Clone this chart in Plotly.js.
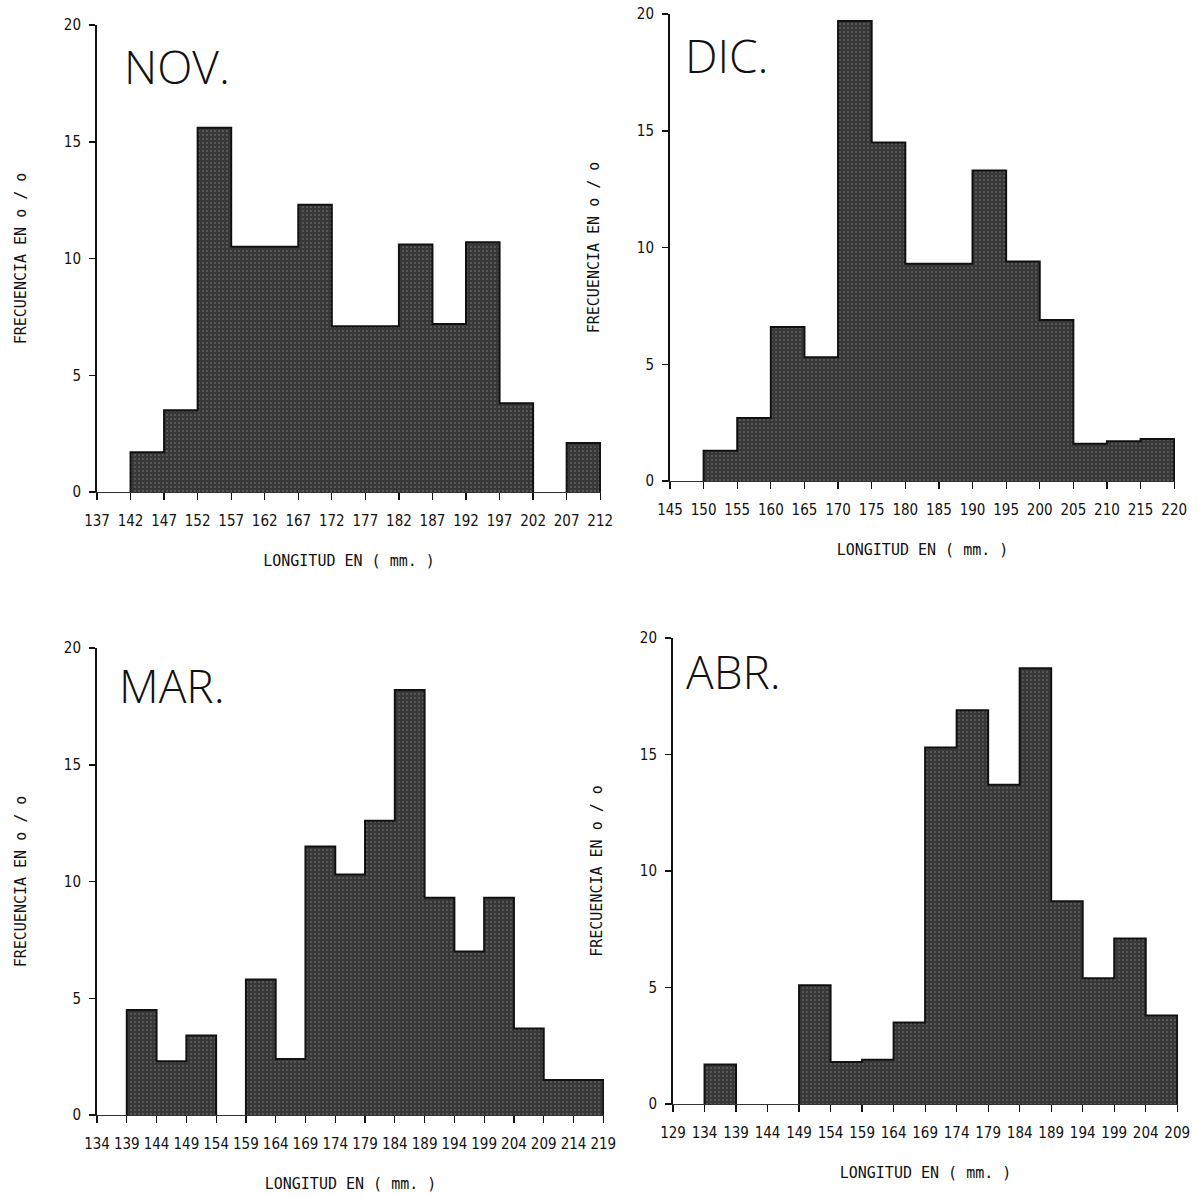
<!DOCTYPE html>
<html>
<head>
<meta charset="utf-8">
<script src="https://cdn.plot.ly/plotly-3.0.1.min.js"></script>
<style>
  html, body { margin: 0; padding: 0; background: #fff; }
  #chart { width: 1199px; height: 1197px; }
</style>
</head>
<body>
<div id="chart"></div>
<script>
// Length-frequency histograms (class width 5 mm), percent frequency per month.

// November
const novEdges = [137, 142, 147, 152, 157, 162, 167, 172, 177, 182, 187, 192, 197, 202, 207, 212];
const novFreq  = [0, 1.7, 3.5, 15.6, 10.5, 10.5, 12.3, 7.1, 7.1, 10.6, 7.2, 10.7, 3.8, 0, 2.1];

// December
const dicEdges = [145, 150, 155, 160, 165, 170, 175, 180, 185, 190, 195, 200, 205, 210, 215, 220];
const dicFreq  = [0, 1.3, 2.7, 6.6, 5.3, 19.7, 14.5, 9.3, 9.3, 13.3, 9.4, 6.9, 1.6, 1.7, 1.8];

// March
const marEdges = [134, 139, 144, 149, 154, 159, 164, 169, 174, 179, 184, 189, 194, 199, 204, 209, 214, 219];
const marFreq  = [0, 4.5, 2.3, 3.4, 0, 5.8, 2.4, 11.5, 10.3, 12.6, 18.2, 9.3, 7.0, 9.3, 3.7, 1.5, 1.5];

// April
const abrEdges = [129, 134, 139, 144, 149, 154, 159, 164, 169, 174, 179, 184, 189, 194, 199, 204, 209];
const abrFreq  = [0, 1.7, 0, 0, 5.1, 1.8, 1.9, 3.5, 15.3, 16.9, 13.7, 18.7, 8.7, 5.4, 7.1, 3.8];

const monthNames = ['NOV.', 'DIC.', 'MAR.', 'ABR.'];
const yTicks = [0, 5, 10, 15, 20];
const xTitle = 'LONGITUD EN ( mm. )';
const yTitle = 'FRECUENCIA EN o / o';

const W = 1199, H = 1197;
const xdom = (a, b) => [a / W, b / W];
const ydom = (top, bottom) => [1 - bottom / H, 1 - top / H];

// plot-area boxes in pixels: [left, right, top, bottom]
const boxes = [
  [97, 601, 25, 492],
  [670, 1175, 14, 481],
  [97, 604, 648, 1115],
  [673, 1178, 638, 1104]
];
const labelPos = [ // month label position in axis-domain fractions
  [0.05, 0.983],
  [0.026, 0.982],
  [0.04, 0.992],
  [0.022, 0.999]
];

const panels = [
  [novEdges, novFreq],
  [dicEdges, dicFreq],
  [marEdges, marFreq],
  [abrEdges, abrFreq]
];

const tickFont = { family: "'Liberation Sans Narrow', 'DejaVu Sans Condensed', 'DejaVu Sans Mono', monospace", size: 15, color: '#111' };
const titleFont = { family: "'DejaVu Sans Mono', monospace", size: 15, color: '#111' };

// silhouette of a histogram: one closed step path per run of non-empty classes
function outline(edges, freq) {
  const xs = [], ys = [];
  let k = 0;
  while (k < freq.length) {
    if (freq[k] <= 0) { k++; continue; }
    xs.push(edges[k]); ys.push(0);
    while (k < freq.length && freq[k] > 0) {
      xs.push(edges[k]); ys.push(freq[k]);
      k++;
    }
    xs.push(edges[k]); ys.push(0);
    xs.push(null); ys.push(null);
  }
  return { xs, ys };
}

const data = [];
const layout = {
  width: W, height: H,
  margin: { l: 0, r: 0, t: 0, b: 0 },
  paper_bgcolor: '#fff', plot_bgcolor: '#fff',
  showlegend: false,
  bargap: 0,
  annotations: []
};

panels.forEach(([edges, freq], i) => {
  const n = i + 1;
  const xa = n === 1 ? 'x' : 'x' + n;
  const ya = n === 1 ? 'y' : 'y' + n;
  const xKey = n === 1 ? 'xaxis' : 'xaxis' + n;
  const yKey = n === 1 ? 'yaxis' : 'yaxis' + n;
  const b = boxes[i];

  // filled classes
  data.push({
    type: 'bar',
    x: edges.slice(0, freq.length),
    y: freq,
    width: 5,
    offset: 0,
    xaxis: xa, yaxis: ya,
    marker: {
      color: '#3c3c3c',
      line: { width: 0 },
      pattern: { shape: '.', fgcolor: '#8a8a8a', bgcolor: '#383838', size: 4, solidity: 0.18, fillmode: 'overlay' }
    },
    hoverinfo: 'x+y'
  });

  const o = outline(edges, freq);
  data.push({
    type: 'scatter', mode: 'lines',
    x: o.xs, y: o.ys,
    connectgaps: false,
    line: { shape: 'hv', color: '#111', width: 2 },
    xaxis: xa, yaxis: ya,
    hoverinfo: 'skip'
  });

  const first = edges[0], last = edges[edges.length - 1];
  layout[xKey] = {
    domain: xdom(b[0], b[1]),
    anchor: ya,
    range: [first, last + 0.12],
    tickvals: edges,
    ticktext: edges.map(String),
    ticks: 'outside', ticklen: 7, tickwidth: 1.2, tickcolor: '#111',
    ticklabelstandoff: 8,
    showline: true, linecolor: '#333', linewidth: 1,
    showgrid: false, zeroline: false,
    tickfont: tickFont,
    fixedrange: true,
    title: { text: xTitle, font: titleFont, standoff: 26 }
  };
  layout[yKey] = {
    domain: ydom(b[2], b[3]),
    anchor: xa,
    range: [0, 20],
    tickvals: yTicks,
    ticktext: yTicks.map(String),
    ticks: 'outside', ticklen: 6, tickwidth: 1.5, tickcolor: '#111',
    ticklabelstandoff: 5,
    showline: true, linecolor: '#111', linewidth: 2,
    showgrid: false, zeroline: false,
    tickfont: tickFont,
    fixedrange: true,
    title: { text: yTitle, font: titleFont, standoff: 34 }
  };

  layout.annotations.push({
    text: monthNames[i],
    xref: xa + ' domain', yref: ya + ' domain',
    x: labelPos[i][0], y: labelPos[i][1],
    xanchor: 'left', yanchor: 'top',
    showarrow: false,
    font: { family: "'Open Sans', 'DejaVu Sans', sans-serif", size: 46, weight: 300, color: '#111' }
  });
});

Plotly.newPlot('chart', data, layout, { staticPlot: true, displayModeBar: false });
</script>
</body>
</html>
